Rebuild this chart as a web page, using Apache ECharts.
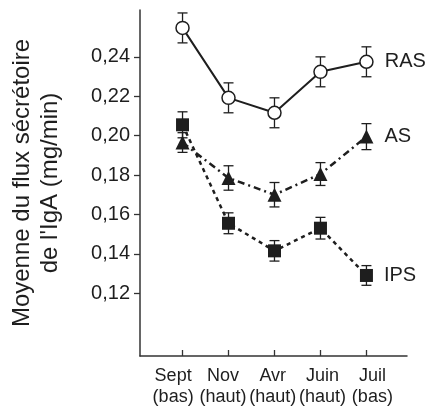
<!DOCTYPE html>
<html>
<head>
<meta charset="utf-8">
<script src="https://cdn.jsdelivr.net/npm/echarts@6/dist/echarts.min.js"></script>
<style>
  html, body { margin: 0; padding: 0; background: #fff; }
  #chart { width: 426px; height: 408px; }
</style>
</head>
<body>
<div id="chart"></div>
<script>
// Sampling periods (month + activity level)
const months = ['Sept', 'Nov', 'Avr', 'Juin', 'Juil'];
const seasons = ['(bas)', '(haut)', '(haut)', '(haut)', '(bas)'];
const yTicks = [0.12, 0.14, 0.16, 0.18, 0.20, 0.22, 0.24];

// Mean secretory IgA flow (mg/min) and its error per group
const rasMean = [0.2547, 0.2192, 0.2116, 0.2324, 0.2375];
const rasErr  = [0.0076, 0.0076, 0.0076, 0.0076, 0.0076];
const asMean  = [0.1965, 0.1785, 0.1700, 0.1805, 0.1995];
const asErr   = [0.0050, 0.0062, 0.0062, 0.0058, 0.0066];
const ipsMean = [0.2055, 0.1555, 0.1415, 0.1530, 0.1290];
const ipsErr  = [0.0066, 0.0053, 0.0052, 0.0055, 0.0050];

const INK = '#1e1e1e';
const AXIS = '#333';
const FONT = 'Liberation Sans';
const periodIdx = [0, 1, 2, 3, 4];

function points(means, name) {
  return means.map((v, i) => {
    const item = { value: [i, v] };
    if (i === means.length - 1) {
      item.label = {
        show: true, formatter: name, position: 'right', distance: 11,
        fontFamily: FONT, fontSize: 20, color: INK
      };
    }
    return item;
  });
}

function errData(means, errs) {
  return means.map((v, i) => [i, v - errs[i], v + errs[i]]);
}

function renderErr(params, api) {
  const x = api.value(0);
  const lo = api.coord([x, api.value(1)]);
  const hi = api.coord([x, api.value(2)]);
  const w = 5;
  const style = { stroke: INK, lineWidth: 1.3 };
  return {
    type: 'group',
    children: [
      { type: 'line', shape: { x1: hi[0], y1: hi[1], x2: lo[0], y2: lo[1] }, style },
      { type: 'line', shape: { x1: hi[0] - w, y1: hi[1], x2: hi[0] + w, y2: hi[1] }, style },
      { type: 'line', shape: { x1: lo[0] - w, y1: lo[1], x2: lo[0] + w, y2: lo[1] }, style }
    ]
  };
}

function errSeries(means, errs) {
  return {
    type: 'custom', renderItem: renderErr, data: errData(means, errs),
    xAxisIndex: 0, z: 1, silent: true, animation: false
  };
}

const chart = echarts.init(document.getElementById('chart'), null, { renderer: 'canvas' });

chart.setOption({
  animation: false,
  backgroundColor: '#fff',
  grid: { left: 137, right: 19, top: 10, bottom: 51 },
  xAxis: [
    {
      // plotting axis: line and ticks at each period
      type: 'value', min: -0.925, max: 4.882, position: 'bottom',
      splitLine: { show: false },
      axisLine: { onZero: false, lineStyle: { color: AXIS, width: 1.5 } },
      axisTick: { customValues: periodIdx, inside: true, length: 6, lineStyle: { color: AXIS, width: 1.3 } },
      axisLabel: { show: false }
    },
    {
      // label axis: period names spread slightly wider than the ticks
      type: 'value', min: -0.665, max: 4.695, position: 'bottom',
      splitLine: { show: false },
      axisLine: { show: false, onZero: false },
      axisTick: { show: false },
      axisLabel: {
        customValues: periodIdx,
        formatter: v => months[v] + '\n' + seasons[v],
        fontFamily: FONT, fontSize: 18, lineHeight: 21, color: INK, margin: 10
      }
    }
  ],
  yAxis: {
    type: 'value', min: 0.0881, max: 0.2638,
    splitLine: { show: false },
    axisLine: { show: true, onZero: false, lineStyle: { color: AXIS, width: 1.5 } },
    axisTick: { show: true, customValues: yTicks, length: 6, lineStyle: { color: AXIS, width: 1.3 } },
    axisLabel: {
      customValues: yTicks,
      formatter: v => v.toFixed(2).replace('.', ','),
      fontFamily: FONT, fontSize: 20, color: INK, margin: 10
    },
    name: 'Moyenne du flux sécrétoire\nde l\'IgA (mg/min)',
    nameLocation: 'middle', nameRotate: 90, nameGap: 76,
    nameTextStyle: { fontFamily: FONT, fontSize: 24, lineHeight: 28, color: INK }
  },
  series: [
    errSeries(rasMean, rasErr),
    errSeries(asMean, asErr),
    errSeries(ipsMean, ipsErr),
    {
      name: 'RAS', type: 'line', data: points(rasMean, 'RAS'), z: 3,
      symbol: 'circle', symbolSize: 13,
      lineStyle: { color: INK, width: 2 },
      itemStyle: { color: '#fff', borderColor: INK, borderWidth: 1.5 }
    },
    {
      name: 'AS', type: 'line', data: points(asMean, 'AS'), z: 3,
      symbol: 'triangle', symbolSize: 14,
      lineStyle: { color: INK, width: 2.5, type: [7, 4, 2, 4] },
      itemStyle: { color: INK, borderWidth: 0 }
    },
    {
      name: 'IPS', type: 'line', data: points(ipsMean, 'IPS'), z: 3,
      symbol: 'rect', symbolSize: 13,
      lineStyle: { color: INK, width: 2.5, type: [4, 4] },
      itemStyle: { color: INK, borderWidth: 0 }
    }
  ]
});
</script>
</body>
</html>
